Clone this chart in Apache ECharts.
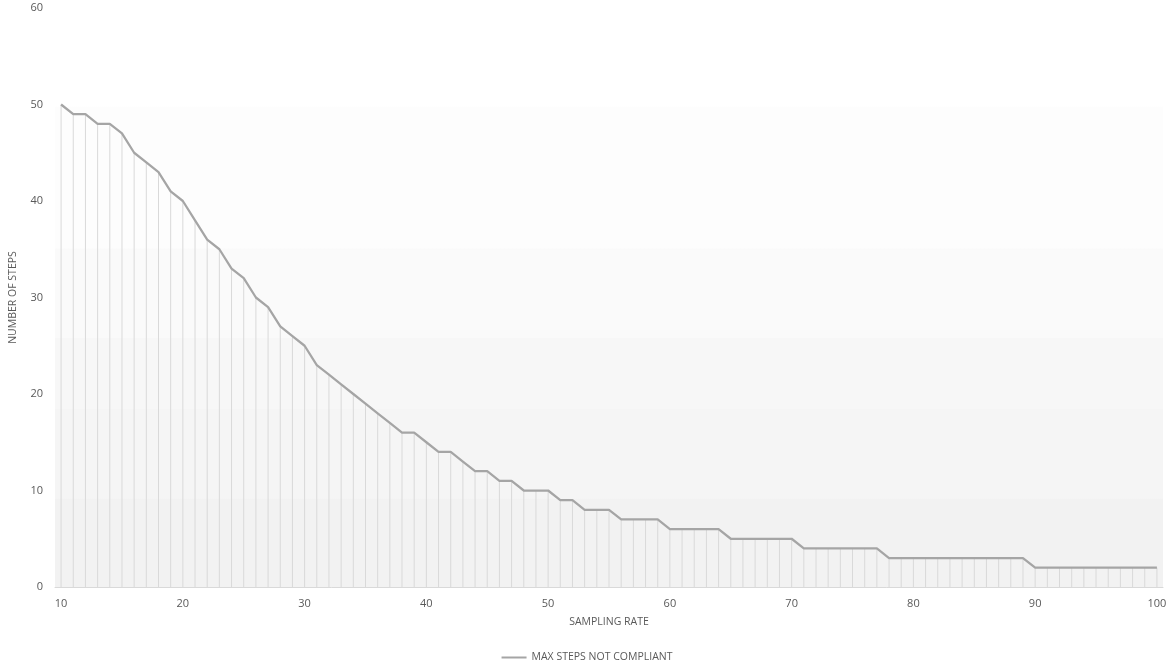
<!DOCTYPE html>
<html>
<head>
<meta charset="utf-8">
<script src="https://cdn.jsdelivr.net/npm/echarts@6/dist/echarts.min.js"></script>
<style>html,body{margin:0;padding:0;background:#fff}#c{width:1174px;height:667px}</style>
</head>
<body>
<div id="c"></div>
<script>
const samplingRates = [10,11,12,13,14,15,16,17,18,19,20,21,22,23,24,25,26,27,28,29,30,31,32,33,34,35,36,37,38,39,40,41,42,43,44,45,46,47,48,49,50,51,52,53,54,55,56,57,58,59,60,61,62,63,64,65,66,67,68,69,70,71,72,73,74,75,76,77,78,79,80,81,82,83,84,85,86,87,88,89,90,91,92,93,94,95,96,97,98,99,100];
const maxStepsNotCompliant = [50,49,49,48,48,47,45,44,43,41,40,38,36,35,33,32,30,29,27,26,25,23,22,21,20,19,18,17,16,16,15,14,14,13,12,12,11,11,10,10,10,9,9,8,8,8,7,7,7,7,6,6,6,6,6,5,5,5,5,5,5,4,4,4,4,4,4,4,3,3,3,3,3,3,3,3,3,3,3,3,2,2,2,2,2,2,2,2,2,2,2];
const yTicks = {min: 0, max: 60, interval: 10};
const seriesName = 'MAX STEPS NOT COMPLIANT';

const chart = echarts.init(document.getElementById('c'));
const font = 'Open Sans';
chart.setOption({
  animation: false,
  backgroundColor: '#ffffff',
  grid: {
    left: 55, right: 11, top: 8, bottom: 80,
    show: true, borderWidth: 0,
    backgroundColor: new echarts.graphic.LinearGradient(0, 0, 0, 1, [
      {offset: 0, color: '#ffffff'},
      {offset: 0.170, color: '#ffffff'},
      {offset: 0.171, color: '#fdfdfd'},
      {offset: 0.415, color: '#fdfdfd'},
      {offset: 0.416, color: '#fafafa'},
      {offset: 0.569, color: '#fafafa'},
      {offset: 0.570, color: '#f7f7f7'},
      {offset: 0.692, color: '#f7f7f7'},
      {offset: 0.693, color: '#f5f5f5'},
      {offset: 0.847, color: '#f5f5f5'},
      {offset: 0.848, color: '#f2f2f2'},
      {offset: 1, color: '#f2f2f2'}
    ])
  },
  legend: {
    data: [{name: seriesName, icon: 'rect'}],
    top: 647,
    left: 'center',
    itemWidth: 25,
    itemHeight: 2,
    itemGap: 10,
    textStyle: {fontFamily: font, fontSize: 10.5, color: '#595959'}
  },
  xAxis: {
    type: 'category',
    data: samplingRates,
    boundaryGap: true,
    name: 'SAMPLING RATE',
    nameLocation: 'middle',
    nameGap: 30,
    nameTextStyle: {fontFamily: font, fontSize: 10.5, color: '#595959'},
    axisLine: {lineStyle: {color: '#d9d9d9', width: 1}},
    axisTick: {show: false},
    axisLabel: {interval: 9, fontFamily: font, fontSize: 11, color: '#595959', margin: 11},
    splitLine: {show: false}
  },
  yAxis: {
    type: 'value',
    min: yTicks.min, max: yTicks.max, interval: yTicks.interval,
    name: 'NUMBER OF STEPS',
    nameLocation: 'middle',
    nameGap: 36,
    nameTextStyle: {fontFamily: font, fontSize: 10.5, color: '#595959'},
    axisLine: {show: false},
    axisTick: {show: false},
    splitLine: {show: false},
    axisLabel: {fontFamily: font, fontSize: 11, color: '#595959', margin: 12}
  },
  series: [
    {
      name: 'drop',
      type: 'bar',
      data: maxStepsNotCompliant,
      barWidth: 1,
      itemStyle: {color: '#d9d9d9'},
      silent: true,
      z: 1
    },
    {
      name: seriesName,
      type: 'line',
      data: maxStepsNotCompliant,
      symbol: 'none',
      lineStyle: {color: '#a5a5a5', width: 2.25},
      itemStyle: {color: '#a5a5a5'},
      z: 3
    }
  ]
});
</script>
</body>
</html>
